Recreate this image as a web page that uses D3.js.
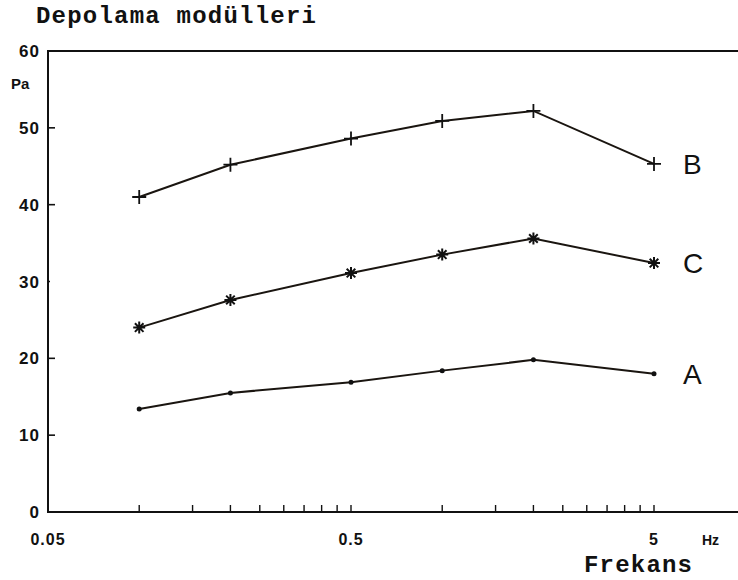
<!DOCTYPE html>
<html lang="en">
<head>
  <meta charset="UTF-8">
  <title>Depolama modülleri</title>
  <script src="https://d3js.org/d3.v7.min.js"></script>
  <style>
    body {
      margin: 0;
      padding: 0;
      background-color: #fff;
    }
    .tick-label {
      font-family: "Liberation Sans", Arial, sans-serif;
      font-weight: bold;
      font-size: 17px;
      letter-spacing: 1px;
      fill: #111;
    }
    .mono {
      font-family: "Liberation Mono", "Courier New", monospace;
      font-weight: bold;
      fill: #111;
    }
    .series-name {
      font-family: "Liberation Sans", Arial, sans-serif;
      font-size: 28px;
      fill: #111;
    }
    .line {
      fill: none;
      stroke: #1a1510;
      stroke-width: 2;
    }
  </style>
</head>
<body>
<div id="chart"></div>

<script>
  // Frequencies (Hz) and storage modulus values (Pa)
  const frequencies = [0.1, 0.2, 0.5, 1, 2, 5];
  const seriesA = [13.4, 15.5, 16.9, 18.4, 19.8, 18.0];
  const seriesB = [41.0, 45.2, 48.6, 50.9, 52.2, 45.3];
  const seriesC = [24.0, 27.6, 31.1, 33.5, 35.6, 32.4];

  const yTicks = [0, 10, 20, 30, 40, 50, 60];
  const xTickLabels = [0.05, 0.5, 5];
  const xMinorTicks = [0.1, 0.15, 0.2, 0.25, 0.3, 0.35, 0.4, 0.45, 0.5,
                       1, 1.5, 2, 2.5, 3, 3.5, 4, 4.5, 5];

  const width = 738,
        height = 580;

  const svg = d3.select("#chart")
    .append("svg")
    .attr("width", width)
    .attr("height", height);

  const x = d3.scaleLog()
    .domain([0.05, 10])
    .range([48, 48 + 303 * Math.log10(200)]);

  const y = d3.scaleLinear()
    .domain([0, 60])
    .range([512, 51]);

  const ink = "#111";

  // frame: left axis, top line, bottom axis (open on the right)
  svg.append("path")
    .attr("d", `M${width},${y(60)}H${x(0.05)}V${y(0)}H${width}`)
    .attr("fill", "none")
    .attr("stroke", ink)
    .attr("stroke-width", 2);

  // y ticks (the 30 tick is only a dot in the original)
  svg.selectAll(".ytick")
    .data(yTicks.filter(d => d > 0 && d < 60))
    .enter()
    .append("line")
    .attr("x1", x(0.05))
    .attr("x2", d => x(0.05) + (d === 30 ? 2 : 7))
    .attr("y1", d => y(d))
    .attr("y2", d => y(d))
    .attr("stroke", ink)
    .attr("stroke-width", 1.6);

  svg.selectAll(".ylabel")
    .data(yTicks)
    .enter()
    .append("text")
    .attr("class", "tick-label")
    .attr("text-anchor", "end")
    .attr("x", 40)
    .attr("y", d => y(d) + 6)
    .text(d => d);

  svg.append("text")
    .attr("class", "tick-label")
    .attr("x", 11)
    .attr("y", 89)
    .style("font-size", "15px")
    .style("letter-spacing", "0px")
    .text("Pa");

  // x minor ticks pointing up
  svg.selectAll(".xtick")
    .data(xMinorTicks)
    .enter()
    .append("line")
    .attr("x1", d => x(d))
    .attr("x2", d => x(d))
    .attr("y1", y(0))
    .attr("y2", y(0) - 7)
    .attr("stroke", ink)
    .attr("stroke-width", 1.4);

  svg.selectAll(".xlabel")
    .data(xTickLabels)
    .enter()
    .append("text")
    .attr("class", "tick-label")
    .attr("text-anchor", "middle")
    .attr("x", d => x(d))
    .attr("y", 545)
    .style("font-size", "16px")
    .text(d => d);

  svg.append("text")
    .attr("class", "tick-label")
    .attr("x", 702)
    .attr("y", 545)
    .style("font-size", "14px")
    .style("letter-spacing", "0px")
    .text("Hz");

  // titles
  svg.append("text")
    .attr("class", "mono")
    .attr("x", 36)
    .attr("y", 23)
    .attr("textLength", 280)
    .attr("lengthAdjust", "spacing")
    .style("font-size", "24px")
    .text("Depolama modülleri");

  svg.append("text")
    .attr("class", "mono")
    .attr("x", 584)
    .attr("y", 572)
    .attr("textLength", 108)
    .attr("lengthAdjust", "spacing")
    .style("font-size", "24px")
    .text("Frekans");

  const line = d3.line()
    .x((d, i) => x(frequencies[i]))
    .y(d => y(d));

  const series = [
    { name: "B", values: seriesB, marker: "plus" },
    { name: "C", values: seriesC, marker: "star" },
    { name: "A", values: seriesA, marker: "dot" }
  ];

  series.forEach(s => {
    svg.append("path")
      .attr("class", "line")
      .attr("d", line(s.values));

    const pts = svg.selectAll(".pt-" + s.name)
      .data(s.values)
      .enter()
      .append("g")
      .attr("transform", (d, i) => `translate(${x(frequencies[i])},${y(d)})`);

    if (s.marker === "plus") {
      pts.append("path")
        .attr("d", "M-7,0H7M0,-7V7")
        .attr("stroke", ink)
        .attr("stroke-width", 1.8);
    } else if (s.marker === "star") {
      pts.append("path")
        .attr("d", "M-6,0H6M0,-6V6M-4.3,-4.3L4.3,4.3M-4.3,4.3L4.3,-4.3")
        .attr("stroke", ink)
        .attr("stroke-width", 2);
    } else {
      pts.append("circle")
        .attr("r", 2.5)
        .attr("fill", ink);
    }

    const last = s.values[s.values.length - 1];
    svg.append("text")
      .attr("class", "series-name")
      .attr("x", 683)
      .attr("y", y(last) + 10)
      .text(s.name);
  });
</script>
</body>
</html>
